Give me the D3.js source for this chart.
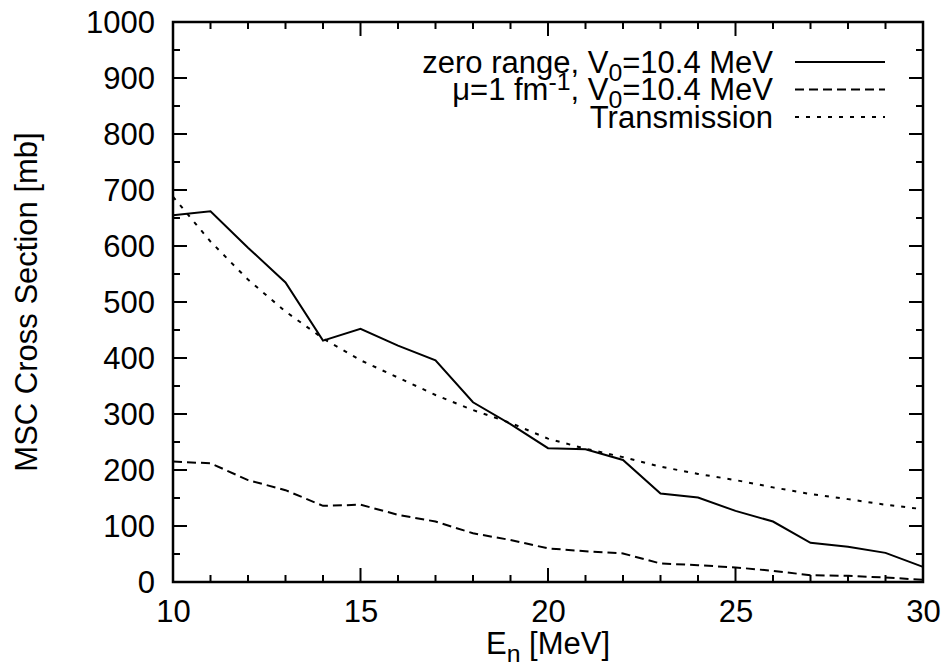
<!DOCTYPE html>
<meta charset="utf-8">
<head>
<script src="https://d3js.org/d3.v7.min.js"></script>
<style>
  body { margin: 0; background: white; }
  text { font-family: "Liberation Sans", Arial, sans-serif; fill: black; }
</style>
</head>
<body>
<script>

// neutron energy, MeV
var energy = [10, 11, 12, 13, 14, 15, 16, 17, 18, 19, 20, 21, 22, 23, 24, 25, 26, 27, 28, 29, 30];
// cross sections, mb
var zeroRange = [655, 662, 597, 535, 431, 452, 422, 396, 321, 282, 239, 237, 218, 158, 151, 127, 108, 70, 63, 52, 27];
var muOne     = [215, 212, 182, 164, 136, 138, 120, 108, 87, 75, 60, 55, 51, 33, 30, 26, 20, 12, 11, 8, 4];
var transmission = [688, 608, 540, 483, 435, 396, 365, 334, 307, 284, 256, 238, 223, 206, 193, 182, 169, 157, 148, 138, 130];

var xTicks = [10, 15, 20, 25, 30];
var yTicks = [0, 100, 200, 300, 400, 500, 600, 700, 800, 900, 1000];

var W = 946, H = 667;
var margin = {top: 22, right: 23, bottom: 85, left: 173};
var width = W - margin.left - margin.right,
    height = H - margin.top - margin.bottom;

var x = d3.scaleLinear().domain([10, 30]).range([0, width]);
var y = d3.scaleLinear().domain([0, 1000]).range([height, 0]);

var svg = d3.select("body").append("svg")
    .attr("width", W)
    .attr("height", H)
  .append("g")
    .attr("transform", "translate(" + margin.left + "," + margin.top + ")");

var fs = 31;

// ticks (gnuplot style: inward, mirrored)
var major = 14, minor = 7;
var xMinor = d3.range(10, 31, 1);
var yMinor = d3.range(0, 1001, 50);

function tickLines(vals, isMajor, horiz) {
  vals.forEach(function(v) {
    var len = isMajor(v) ? major : minor;
    if (horiz) {
      svg.append("line").attr("x1", x(v)).attr("x2", x(v)).attr("y1", height).attr("y2", height - len)
        .attr("stroke", "black").attr("stroke-width", 2);
      svg.append("line").attr("x1", x(v)).attr("x2", x(v)).attr("y1", 0).attr("y2", len)
        .attr("stroke", "black").attr("stroke-width", 2);
    } else {
      svg.append("line").attr("y1", y(v)).attr("y2", y(v)).attr("x1", 0).attr("x2", len)
        .attr("stroke", "black").attr("stroke-width", 2);
      svg.append("line").attr("y1", y(v)).attr("y2", y(v)).attr("x1", width).attr("x2", width - len)
        .attr("stroke", "black").attr("stroke-width", 2);
    }
  });
}
tickLines(xMinor, function(v) { return v % 5 === 0; }, true);
tickLines(yMinor, function(v) { return v % 100 === 0; }, false);

// tick labels through d3 axes, hiding their own lines
var xAxis = d3.axisBottom(x).tickValues(xTicks).tickFormat(d3.format("d")).tickSize(0).tickPadding(18);
var yAxis = d3.axisLeft(y).tickValues(yTicks).tickFormat(d3.format("d")).tickSize(0).tickPadding(18);

svg.append("g")
    .attr("transform", "translate(0," + height + ")")
    .call(xAxis)
    .call(function(g) { g.select(".domain").remove(); })
    .selectAll("text").style("font-size", fs + "px").attr("font-family", null);

svg.append("g")
    .call(yAxis)
    .call(function(g) { g.select(".domain").remove(); })
    .selectAll("text").style("font-size", fs + "px").attr("dy", "0.35em").attr("font-family", null);

// frame
svg.append("rect")
    .attr("width", width).attr("height", height)
    .attr("fill", "none").attr("stroke", "black").attr("stroke-width", 2.5);

// curves
var series = [
  {values: zeroRange, dash: null},
  {values: muOne, dash: "9,5"},
  {values: transmission, dash: "4,7"}
];

var line = d3.line()
    .x(function(d) { return x(d[0]); })
    .y(function(d) { return y(d[1]); });

series.forEach(function(s) {
  svg.append("path")
      .datum(energy.map(function(e, i) { return [e, s.values[i]]; }))
      .attr("fill", "none")
      .attr("stroke", "black")
      .attr("stroke-width", 2)
      .attr("stroke-dasharray", s.dash)
      .attr("d", line);
});

// legend
var legendRows = [
  [["zero range, V", 0], ["0", -1], ["=10.4 MeV", 0]],
  [["\u03bc=1 fm", 0], ["-1", 1], [", V", 0], ["0", -1], ["=10.4 MeV", 0]],
  [["Transmission", 0]]
];
var legX = 773 - margin.left, legY0 = 62 - margin.top, legDy = 27.5;

legendRows.forEach(function(row, i) {
  var t = svg.append("text")
      .attr("x", legX)
      .attr("y", legY0 + i * legDy)
      .attr("dy", "0.35em")
      .attr("text-anchor", "end")
      .style("font-size", fs + "px");
  row.forEach(function(part) {
    var sp = t.append("tspan").text(part[0]);
    if (part[1] === -1) sp.attr("baseline-shift", "-30%").style("font-size", (fs * 0.8) + "px");
    if (part[1] === 1) sp.attr("baseline-shift", "40%").style("font-size", (fs * 0.8) + "px");
  });
  svg.append("line")
      .attr("x1", 795 - margin.left).attr("x2", 885 - margin.left)
      .attr("y1", legY0 + i * legDy).attr("y2", legY0 + i * legDy)
      .attr("stroke", "black").attr("stroke-width", 2)
      .attr("stroke-dasharray", series[i].dash);
});

// axis titles
var xt = svg.append("text")
    .attr("x", width / 2)
    .attr("y", height + 72)
    .attr("text-anchor", "middle")
    .style("font-size", fs + "px");
xt.append("tspan").text("E");
xt.append("tspan").text("n").attr("baseline-shift", "-30%").style("font-size", (fs * 0.8) + "px");
xt.append("tspan").text(" [MeV]");

svg.append("text")
    .attr("transform", "translate(" + (37 - margin.left) + "," + (height / 2) + ") rotate(-90)")
    .attr("text-anchor", "middle")
    .style("font-size", fs + "px")
    .text("MSC Cross Section [mb]");

</script>
</body>
